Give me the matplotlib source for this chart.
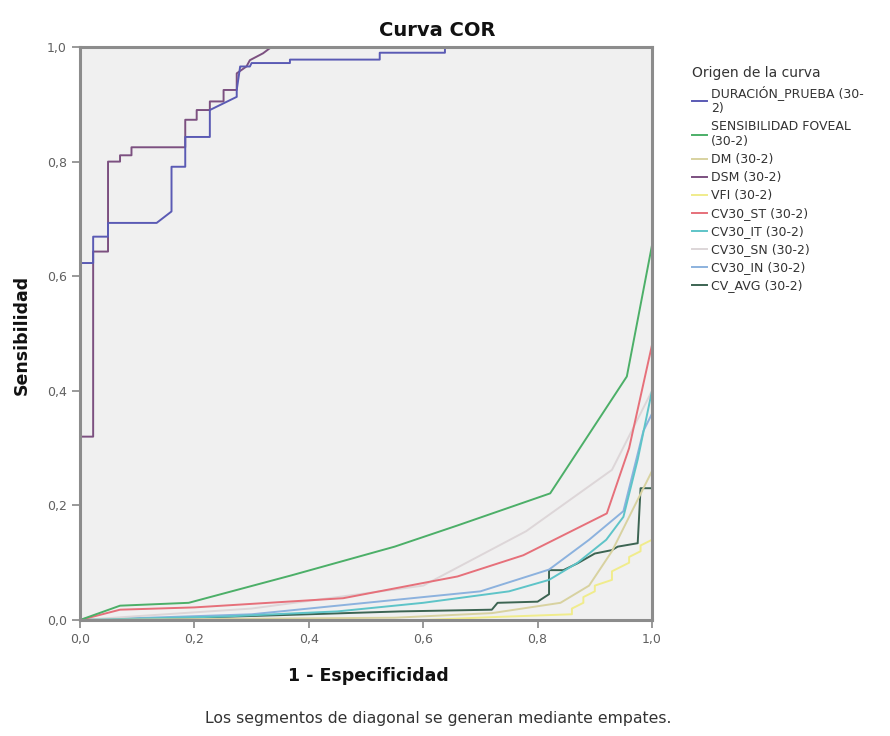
import matplotlib
matplotlib.use("Agg")
import matplotlib.pyplot as plt

plt.rcParams['font.family'] = ['DejaVu Sans']

# ---- data ----
labels = ["DURACIÓN_PRUEBA (30-\n2)", "SENSIBILIDAD FOVEAL\n(30-2)", "DM (30-2)", "DSM (30-2)",
          "VFI (30-2)", "CV30_ST (30-2)", "CV30_IT (30-2)", "CV30_SN (30-2)",
          "CV30_IN (30-2)", "CV_AVG (30-2)"]
colors = ["#5a5ab4", "#4caf68", "#d8d2a0", "#7c5080", "#f0ec8c",
          "#e6707a", "#5ec4c8", "#ddd6d8", "#8cb2de", "#3c6452"]

dur_x = [0, 0, 0.023, 0.023, 0.049, 0.049, 0.134, 0.16, 0.16, 0.184, 0.184, 0.227, 0.227,
         0.274, 0.274, 0.28, 0.297, 0.30, 0.367, 0.367, 0.524, 0.524, 0.638, 0.638, 1]
dur_y = [0, 0.623, 0.623, 0.669, 0.669, 0.693, 0.693, 0.713, 0.791, 0.791, 0.843, 0.843, 0.89,
         0.913, 0.925, 0.966, 0.966, 0.972, 0.972, 0.978, 0.978, 0.99, 0.99, 1.0, 1]

dsm_x = [0, 0, 0.023, 0.023, 0.049, 0.049, 0.07, 0.07, 0.09, 0.09, 0.184, 0.184, 0.204, 0.204,
         0.227, 0.227, 0.251, 0.251, 0.274, 0.274, 0.291, 0.297, 0.32, 0.332, 0.344, 1]
dsm_y = [0, 0.32, 0.32, 0.643, 0.643, 0.80, 0.80, 0.811, 0.811, 0.825, 0.825, 0.873, 0.873, 0.89,
         0.89, 0.905, 0.905, 0.925, 0.925, 0.954, 0.966, 0.977, 0.989, 0.998, 1.0, 1]

fov_x = [0, 0.07, 0.19, 0.37, 0.55, 0.66, 0.822, 0.956, 1.0, 1]
fov_y = [0, 0.025, 0.03, 0.078, 0.128, 0.165, 0.221, 0.425, 0.654, 1]

dm_x = [0, 0.55, 0.72, 0.84, 0.89, 0.93, 0.97, 1.0, 1]
dm_y = [0, 0.004, 0.012, 0.03, 0.06, 0.12, 0.2, 0.26, 1]

vfi_x = [0, 0.6, 0.72, 0.86, 0.86, 0.88, 0.88, 0.90, 0.90, 0.93, 0.93, 0.96, 0.96, 0.98, 0.98, 1.0, 1]
vfi_y = [0, 0.0, 0.005, 0.01, 0.02, 0.03, 0.04, 0.05, 0.06, 0.07, 0.085, 0.10, 0.11, 0.12, 0.13, 0.14, 1]

st_x = [0, 0.07, 0.2, 0.46, 0.66, 0.775, 0.921, 0.96, 1.0, 1]
st_y = [0, 0.018, 0.022, 0.038, 0.076, 0.113, 0.186, 0.30, 0.48, 1]

it_x = [0, 0.25, 0.45, 0.6, 0.75, 0.82, 0.87, 0.92, 0.95, 0.975, 1.0, 1]
it_y = [0, 0.006, 0.015, 0.03, 0.05, 0.07, 0.10, 0.14, 0.18, 0.28, 0.40, 1]

sn_x = [0, 0.3, 0.6, 0.78, 0.93, 1.0, 1]
sn_y = [0, 0.02, 0.06, 0.155, 0.262, 0.40, 1]

in_x = [0, 0.3, 0.5, 0.7, 0.82, 0.89, 0.95, 0.985, 1.0, 1]
in_y = [0, 0.01, 0.03, 0.05, 0.088, 0.14, 0.19, 0.33, 0.36, 1]

avg_x = [0, 0.2, 0.4, 0.56, 0.72, 0.73, 0.80, 0.82, 0.82, 0.845, 0.87, 0.90, 0.93, 0.94, 0.975, 0.98, 1.0, 1]
avg_y = [0, 0.004, 0.01, 0.015, 0.018, 0.03, 0.032, 0.045, 0.087, 0.087, 0.099, 0.116, 0.122, 0.128, 0.134, 0.23, 0.23, 1]

series = [(dur_x, dur_y), (fov_x, fov_y), (dm_x, dm_y), (dsm_x, dsm_y), (vfi_x, vfi_y),
          (st_x, st_y), (it_x, it_y), (sn_x, sn_y), (in_x, in_y), (avg_x, avg_y)]

ticks = [0.0, 0.2, 0.4, 0.6, 0.8, 1.0]
tick_labels = ["0,0", "0,2", "0,4", "0,6", "0,8", "1,0"]

# ---- figure ----
fig = plt.figure(figsize=(8.9, 7.36), dpi=100)
ax = fig.add_axes([80/890, 116/736, 572/890, 573/736])
ax.set_facecolor("#f0f0f0")

handles = []
for (x, y), c, lab in zip(series, colors, labels):
    h, = ax.plot(x, y, color=c, lw=1.4, label=lab)
    handles.append(h)
for h, z in zip(handles, range(20, 10, -1)):
    h.set_zorder(z / 10)

ax.set_xlim(0, 1)
ax.set_ylim(0, 1)
ax.set_xticks(ticks)
ax.set_yticks(ticks)
ax.set_xticklabels(tick_labels)
ax.set_yticklabels(tick_labels)
ax.tick_params(axis='both', colors="#888888", labelcolor="#606060", labelsize=9,
               length=6, width=1.2, direction='out')
for s in ax.spines.values():
    s.set_color("#8c8c8c")
    s.set_linewidth(2.2)
    s.set_zorder(5)

fig.text(437/890, 1 - 31/736, "Curva COR", ha='center', va='center',
         fontsize=14, fontweight='bold', color="#111111")
fig.text(368/890, 1 - 676/736, "1 - Especificidad", ha='center', va='center',
         fontsize=12.5, fontweight='bold', color="#111111")
fig.text(22/890, 1 - 335/736, "Sensibilidad", ha='center', va='center', rotation=90,
         fontsize=12.5, fontweight='bold', color="#111111")

fig.text(438/890, 1 - 718/736, "Los segmentos de diagonal se generan mediante empates.",
         ha='center', va='center', fontsize=11.3, color="#333333")

leg = fig.legend(handles=handles, labels=labels, loc='upper left',
                 bbox_to_anchor=(681/890, 1 - 55/736), frameon=False,
                 title="Origen de la curva", fontsize=9, title_fontsize=10,
                 handlelength=1.2, handletextpad=0.3, labelspacing=0.4)
leg._legend_box.align = "left"
for t in leg.get_texts():
    t.set_color("#333333")
leg.get_title().set_color("#333333")

fig.savefig("out.png", dpi=100)
